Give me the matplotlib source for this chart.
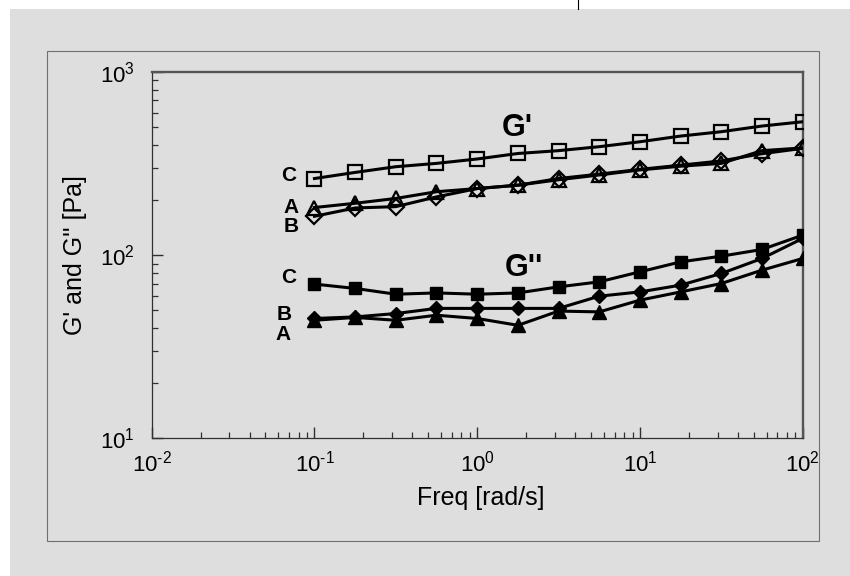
import matplotlib
matplotlib.use("Agg")
import matplotlib.pyplot as plt
from matplotlib.patches import Rectangle
from matplotlib.lines import Line2D
import matplotlib.ticker as mticker

plt.rcParams['font.family'] = ['Liberation Sans', 'DejaVu Sans']
plt.rcParams['mathtext.fontset'] = 'custom'
plt.rcParams['mathtext.rm'] = 'Liberation Sans'
plt.rcParams['mathtext.it'] = 'Liberation Sans'
plt.rcParams['mathtext.bf'] = 'Liberation Sans:bold'

# ---- data ----
freq = [0.1, 0.178, 0.316, 0.562, 1.0, 1.78, 3.16, 5.62, 10.0, 17.8, 31.6, 56.2, 100.0]

gp_A = [182, 192, 204, 222, 231, 241, 258, 274, 292, 306, 317, 372, 385]
gp_B = [163, 181, 184, 208, 231, 241, 262, 277, 294, 310, 327, 358, 383]
gp_C = [262, 283, 304, 317, 335, 359, 372, 391, 416, 447, 472, 507, 535]

gpp_A = [44.1, 45.7, 44.1, 47.0, 45.1, 41.4, 49.5, 49.0, 56.8, 63.0, 70.0, 82.8, 95.9]
gpp_B = [45.1, 46.0, 48.0, 51.2, 51.2, 51.2, 51.2, 59.7, 63.0, 68.6, 79.4, 95.9, 123.4]
gpp_C = [69.5, 65.8, 61.2, 62.2, 61.2, 62.2, 67.1, 71.5, 81.1, 91.9, 98.7, 107.4, 128.6]

x_ticks = [1e-2, 1e-1, 1e0, 1e1, 1e2]
x_ticklabels = [r'$10^{\text{-}2}$', r'$10^{\text{-}1}$', r'$10^{0}$', r'$10^{1}$', r'$10^{2}$']
y_ticks = [1e1, 1e2, 1e3]
y_ticklabels = [r'$10^{1}$', r'$10^{2}$', r'$10^{3}$']

x_label = "Freq [rad/s]"
y_label = "G' and G'' [Pa]"

BG = '#dedede'

fig = plt.figure(figsize=(8.5, 5.76), dpi=100, facecolor='white')

# gray background panel and frame
fig.patches.append(Rectangle((10/850, 0), 1 - 10/850, 1 - 9/576, transform=fig.transFigure,
                             facecolor=BG, edgecolor='none', zorder=-10))
fig.patches.append(Rectangle((47/850, 1 - 541/576), (819-47)/850, (541-51)/576,
                             transform=fig.transFigure, facecolor='none',
                             edgecolor='#707070', lw=0.8, zorder=-5))
fig.lines.append(Line2D([578/850, 578/850], [1, 1 - 9/576], transform=fig.transFigure,
                        color='black', lw=0.8))

ax = fig.add_axes([151.7/850, 1 - 438.3/576, (802.7-151.7)/850, (438.3-72)/576])
ax.set_facecolor(BG)
ax.set_xscale('log')
ax.set_yscale('log')
ax.set_xlim(1e-2, 1e2)
ax.set_ylim(1e1, 1e3)

lw = 2.2
ms = 9.5
mew = 1.6
ax.plot(freq, gp_C, color='black', lw=lw, marker='s', ms=ms, mfc='none', mec='black', mew=mew, zorder=3)
ax.plot(freq, gp_B, color='black', lw=lw, marker='D', ms=ms-1.5, mfc='none', mec='black', mew=mew, zorder=3)
ax.plot(freq, gp_A, color='black', lw=lw, marker='^', ms=ms+1, mfc='none', mec='black', mew=mew, zorder=3)

ax.plot(freq, gpp_C, color='black', lw=lw, marker='s', ms=ms-0.5, mfc='black', mec='black', zorder=3)
ax.plot(freq, gpp_B, color='black', lw=lw, marker='D', ms=ms-2, mfc='black', mec='black', zorder=3)
ax.plot(freq, gpp_A, color='black', lw=lw, marker='^', ms=ms+1, mfc='black', mec='black', zorder=3)

# annotations
bold = dict(fontweight='bold', family=['Liberation Sans', 'DejaVu Sans'], ha='center', va='center')
ax.text(1.756, 494, "G'", fontsize=22, **bold)
ax.text(1.94, 84.9, "G''", fontsize=22, **bold)
lab = 15
ax.text(0.0698, 273.5, "C", fontsize=lab, **bold)
ax.text(0.0718, 183, "A", fontsize=lab, **bold)
ax.text(0.0718, 144, "B", fontsize=lab, **bold)
ax.text(0.0698, 75.8, "C", fontsize=lab, **bold)
ax.text(0.065, 47.6, "B", fontsize=lab, **bold)
ax.text(0.0641, 37.0, "A", fontsize=lab, **bold)

# spines
for s in ['top', 'right']:
    ax.spines[s].set_linewidth(1.7)
    ax.spines[s].set_color('#555555')
for s in ['left', 'bottom']:
    ax.spines[s].set_linewidth(0.9)
    ax.spines[s].set_color('#303030')

ax.set_xticks(x_ticks)
ax.set_xticklabels(x_ticklabels)
ax.set_yticks(y_ticks)
ax.set_yticklabels(y_ticklabels)
ax.xaxis.set_minor_locator(mticker.LogLocator(base=10, subs=range(2, 10), numticks=10))
ax.yaxis.set_minor_locator(mticker.LogLocator(base=10, subs=range(2, 10), numticks=10))
ax.xaxis.set_minor_formatter(mticker.NullFormatter())
ax.yaxis.set_minor_formatter(mticker.NullFormatter())

ax.tick_params(which='major', direction='in', length=8, width=1.0, color='#303030',
               labelsize=16, top=False, right=False)
ax.tick_params(which='minor', direction='in', length=4, width=0.9, color='#303030',
               top=False, right=False)
ax.tick_params(axis='x', which='major', pad=9)
ax.tick_params(axis='y', which='major', pad=12)

ax.set_xlabel(x_label, fontsize=18)
ax.set_ylabel(y_label, fontsize=18)
ax.xaxis.set_label_coords(0.5 + (481 - 477.2) / 651, (438.3 - 498) / 366.3)
ax.xaxis.label.set_va('center')
ax.yaxis.set_label_coords((75 - 151.7) / 651, 0.5)
ax.yaxis.label.set_va('center')

fig.savefig('out.png', dpi=100, facecolor='white')
